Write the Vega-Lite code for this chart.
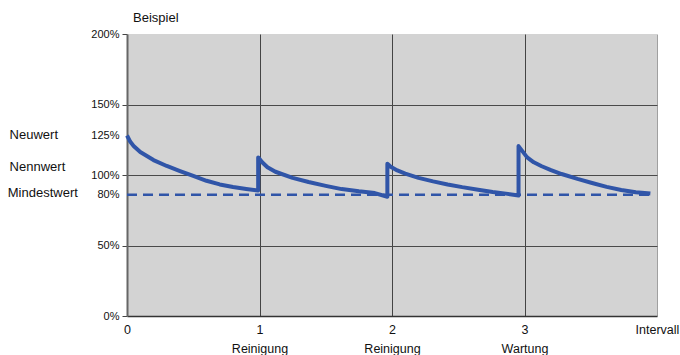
{
  "$schema": "https://vega.github.io/schema/vega-lite/v6.json",
  "width": 530,
  "height": 282,
  "autosize": {"type": "none"},
  "padding": {"left": 127, "top": 34, "right": 23, "bottom": 39},
  "background": "white",
  "config": {"view": {"fill": "#d3d3d3", "stroke": null}, "font": "Liberation Sans"},
  "title": {"text": "Beispiel", "anchor": "start", "frame": "group", "fontSize": 13, "fontWeight": "normal", "font": "Liberation Sans", "color": "#111", "offset": 3, "dx": 6},
  "datasets": {
    "curve": [
      {"i": 1, "x": 0, "y": 128},
      {"i": 2, "x": 0.025, "y": 123.5},
      {"i": 3, "x": 0.05, "y": 120.6},
      {"i": 4, "x": 0.1, "y": 116.3},
      {"i": 5, "x": 0.2, "y": 110.6},
      {"i": 6, "x": 0.3, "y": 106.4},
      {"i": 7, "x": 0.4, "y": 102.8},
      {"i": 8, "x": 0.5, "y": 99.3},
      {"i": 9, "x": 0.6, "y": 95.9},
      {"i": 10, "x": 0.7, "y": 93.3},
      {"i": 11, "x": 0.8, "y": 91.5},
      {"i": 12, "x": 0.9, "y": 90.1},
      {"i": 13, "x": 0.99, "y": 89},
      {"i": 14, "x": 0.99, "y": 112.5},
      {"i": 15, "x": 1.02, "y": 109},
      {"i": 16, "x": 1.06, "y": 105.5},
      {"i": 17, "x": 1.12, "y": 102.3},
      {"i": 18, "x": 1.25, "y": 98},
      {"i": 19, "x": 1.37, "y": 95},
      {"i": 20, "x": 1.5, "y": 92.3},
      {"i": 21, "x": 1.62, "y": 90},
      {"i": 22, "x": 1.75, "y": 88.4},
      {"i": 23, "x": 1.87, "y": 87.2},
      {"i": 24, "x": 1.965, "y": 84.6},
      {"i": 25, "x": 1.965, "y": 108},
      {"i": 26, "x": 1.99, "y": 105.8},
      {"i": 27, "x": 2.04, "y": 103.2},
      {"i": 28, "x": 2.1, "y": 101},
      {"i": 29, "x": 2.2, "y": 98},
      {"i": 30, "x": 2.31, "y": 95.5},
      {"i": 31, "x": 2.42, "y": 93.3},
      {"i": 32, "x": 2.53, "y": 91.4},
      {"i": 33, "x": 2.65, "y": 89.6},
      {"i": 34, "x": 2.76, "y": 88},
      {"i": 35, "x": 2.86, "y": 86.8},
      {"i": 36, "x": 2.955, "y": 85.4},
      {"i": 37, "x": 2.955, "y": 120.5},
      {"i": 38, "x": 2.975, "y": 118},
      {"i": 39, "x": 3.02, "y": 112.5},
      {"i": 40, "x": 3.07, "y": 109},
      {"i": 41, "x": 3.13, "y": 106.2},
      {"i": 42, "x": 3.2, "y": 103.5},
      {"i": 43, "x": 3.28, "y": 100.7},
      {"i": 44, "x": 3.4, "y": 97.2},
      {"i": 45, "x": 3.51, "y": 94.3},
      {"i": 46, "x": 3.62, "y": 91.6},
      {"i": 47, "x": 3.73, "y": 89.4},
      {"i": 48, "x": 3.84, "y": 87.8},
      {"i": 49, "x": 3.95, "y": 86.8}
    ],
    "dashed": [
      {"x": 0, "y": 86},
      {"x": 3.95, "y": 86}
    ],
    "names": [
      {"x": -0.886, "y": 128.4, "label": "Neuwert"},
      {"x": -0.886, "y": 105.9, "label": "Nennwert"},
      {"x": -0.9, "y": 87.4, "label": "Mindestwert"}
    ]
  },
  "layer": [
    {
      "data": {"name": "dashed"},
      "mark": {"type": "line", "color": "#3055a8", "strokeWidth": 2.5, "strokeDash": [10, 6]},
      "encoding": {
        "x": {
          "field": "x", "type": "quantitative",
          "scale": {"domain": [0, 4], "nice": false, "zero": false},
          "axis": {
            "values": [0, 1, 2, 3, 4],
            "title": null,
            "ticks": false,
            "labelPadding": 7,
            "labelFontSize": 12.5,
            "labelColor": "#111",
            "labelFlush": false,
            "labelOverlap": false,
            "labelLineHeight": 19,
            "labelExpr": "datum.value==0?'0':datum.value==1?['1','Reinigung']:datum.value==2?['2','Reinigung']:datum.value==3?['3','Wartung']:'Intervall'",
            "grid": true,
            "gridColor": {"condition": {"test": "datum.value==4", "value": "#a0a0a0"}, "value": "#444444"},
            "gridOpacity": {"condition": {"test": "datum.value==0", "value": 0}, "value": 1},
            "gridWidth": 1,
            "domainColor": "#333333",
            "domainWidth": 1.5
          }
        },
        "y": {
          "field": "y", "type": "quantitative",
          "scale": {"domain": [0, 200], "nice": false},
          "axis": {
            "values": [0, 50, 86, 100, 128, 150, 200],
            "title": null,
            "labelExpr": "datum.value==86?'80%':datum.value==128?'125%':datum.value+'%'",
            "labelFontSize": 11,
            "labelColor": "#111",
            "labelPadding": 3,
            "labelFlush": false,
            "labelOverlap": false,
            "tickSize": 5,
            "tickColor": "#444444",
            "tickOpacity": {"condition": {"test": "datum.value==86||datum.value==128", "value": 0}, "value": 1},
            "grid": true,
            "gridColor": "#4a4a4a",
            "gridWidth": 1,
            "gridOpacity": {"condition": {"test": "datum.value==50||datum.value==100||datum.value==150", "value": 1}, "value": 0},
            "domainColor": "#666666",
            "domainWidth": 2
          }
        }
      }
    },
    {
      "data": {"name": "curve"},
      "mark": {"type": "line", "color": "#3055a8", "strokeWidth": 4, "strokeJoin": "round", "strokeCap": "butt"},
      "encoding": {
        "x": {"field": "x", "type": "quantitative"},
        "y": {"field": "y", "type": "quantitative"},
        "order": {"field": "i", "type": "quantitative"}
      }
    },
    {
      "data": {"name": "names"},
      "mark": {"type": "text", "align": "left", "baseline": "middle", "fontSize": 13, "font": "Liberation Sans", "color": "#111"},
      "encoding": {
        "x": {"field": "x", "type": "quantitative"},
        "y": {"field": "y", "type": "quantitative"},
        "text": {"field": "label"}
      }
    }
  ]
}
